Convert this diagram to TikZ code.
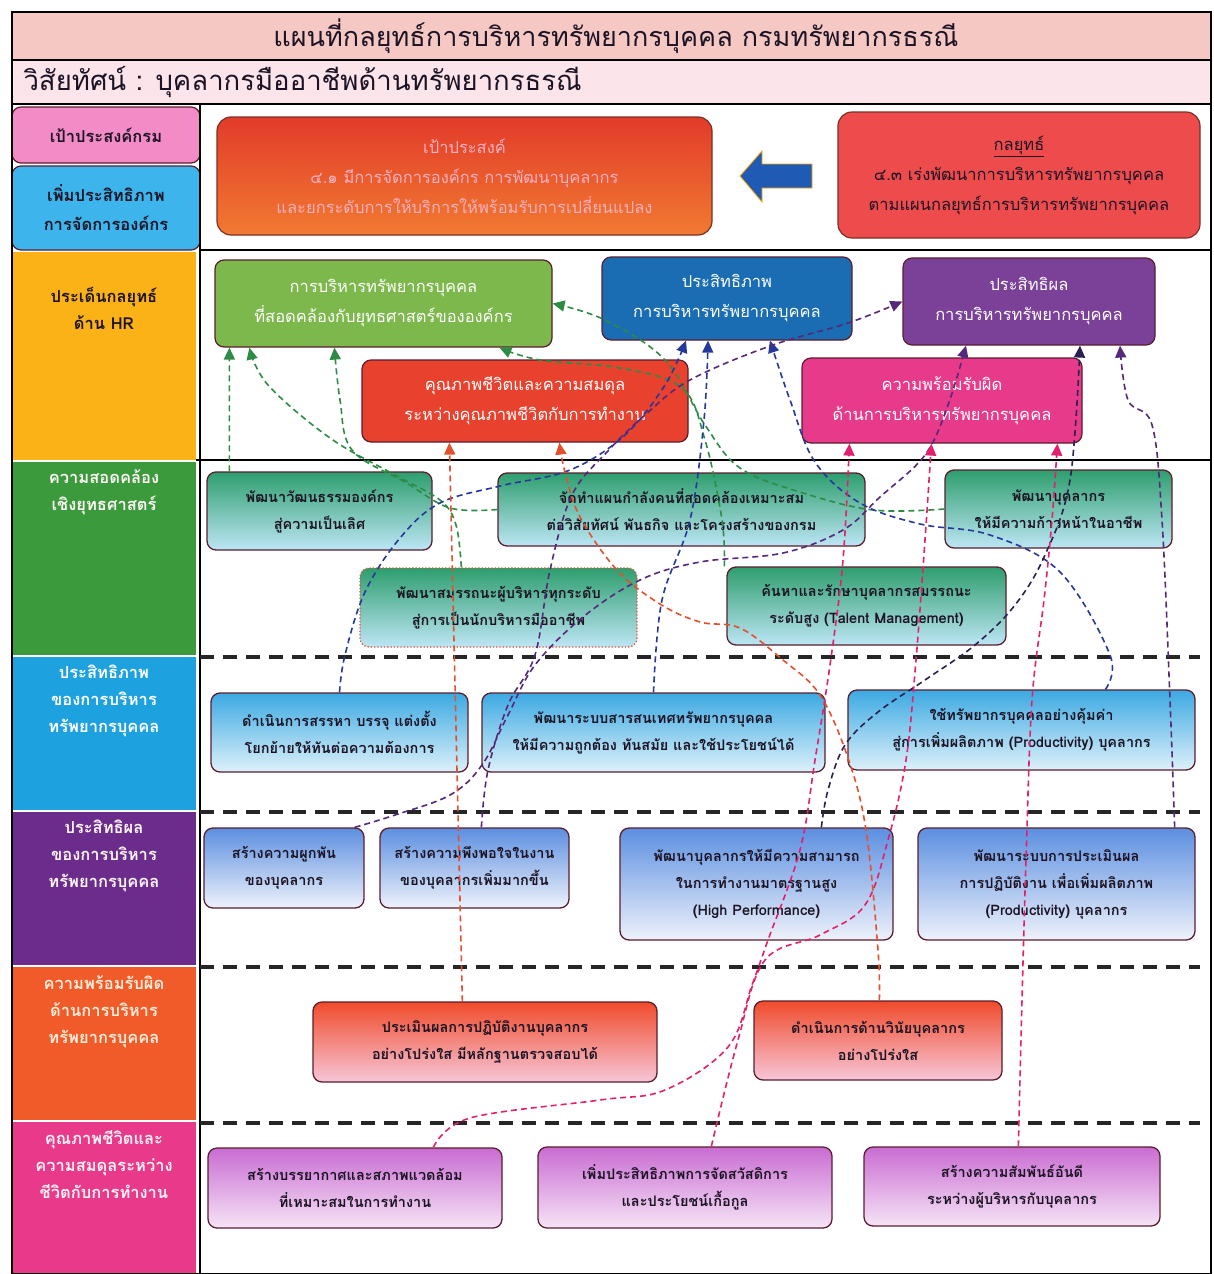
\documentclass[tikz,border=0pt]{standalone}
\usepackage{fontspec}
\newfontfamily\thaifont[Script=Thai]{Loma}
\usetikzlibrary{arrows.meta}

\definecolor{edgecol}{HTML}{5A1E2E}
\definecolor{titlepink}{HTML}{F5C8C4}
\definecolor{visionpink}{HTML}{FBE4EA}
\definecolor{cellpink}{HTML}{F28BC6}
\definecolor{cellblue}{HTML}{3DB5EC}
\definecolor{cellorange}{HTML}{FBB217}
\definecolor{cellgreen}{HTML}{3A9A3C}
\definecolor{cellsky}{HTML}{1DA1DF}
\definecolor{cellpurple}{HTML}{6B2C8C}
\definecolor{cellred}{HTML}{F15A29}
\definecolor{cellmagenta}{HTML}{E8398B}
\definecolor{goaltop}{HTML}{E23B2A}
\definecolor{goalbot}{HTML}{F17A31}
\definecolor{goaltext}{HTML}{F6B0C0}
\definecolor{stratred}{HTML}{EE4B4D}
\definecolor{hrgreencol}{HTML}{7DB84C}
\definecolor{hrbluecol}{HTML}{1A6DB2}
\definecolor{hrpurplecol}{HTML}{7B4199}
\definecolor{hrredcol}{HTML}{E8412E}
\definecolor{hrpinkcol}{HTML}{E83A8A}
\definecolor{alntop}{HTML}{2E9E6E}
\definecolor{alnbot}{HTML}{BDE6F5}
\definecolor{efftop}{HTML}{3CA9E2}
\definecolor{effbot}{HTML}{DDF1FA}
\definecolor{restop}{HTML}{5C8FE0}
\definecolor{resbot}{HTML}{EEF2FB}
\definecolor{acctop}{HTML}{F04B2B}
\definecolor{accbot}{HTML}{F7C6D8}
\definecolor{qoltop}{HTML}{C96CD2}
\definecolor{qolbot}{HTML}{F6E4F6}
\definecolor{lkgreen}{HTML}{2E8B45}
\definecolor{lkblue}{HTML}{26399A}
\definecolor{lkpurple}{HTML}{55287A}
\definecolor{lkdark}{HTML}{2B2050}
\definecolor{lkred}{HTML}{E4502E}
\definecolor{lkpink}{HTML}{E2206E}
\definecolor{inkdark}{HTML}{1C1424}
\definecolor{arrowblue}{HTML}{1F5AB4}

\begin{document}
\begin{tikzpicture}[
  x=1pt, y=-1pt,
  font=\thaifont\fontsize{14.5}{27}\selectfont,
  cellbox/.style={minimum width=184pt, inner sep=0pt},
  celltext/.style={anchor=north, align=center, font=\thaifont\bfseries\fontsize{16.5}{27}\selectfont},
  headbox/.style={draw=edgecol, line width=1.2pt, rounded corners=9pt, minimum width=188pt, align=center, text=inkdark, font=\thaifont\bfseries\fontsize{16.5}{29}\selectfont},
  topbox/.style={draw=edgecol!80!orange, line width=1.2pt, rounded corners=14pt, align=center, font=\thaifont\fontsize{16.5}{30}\selectfont},
  hrbox/.style={draw=edgecol, line width=1.2pt, rounded corners=9pt, align=center, text=white, font=\thaifont\fontsize{16.5}{30}\selectfont},
  subbox/.style={draw=edgecol, line width=1.3pt, rounded corners=9pt, align=center, text=inkdark, font=\thaifont\bfseries\fontsize{14.5}{27}\selectfont},
  alnbox/.style={subbox, top color=alntop, bottom color=alnbot},
  effbox/.style={subbox, top color=efftop, bottom color=effbot},
  resbox/.style={subbox, top color=restop, bottom color=resbot},
  accbox/.style={subbox, top color=acctop, bottom color=accbot},
  qolbox/.style={subbox, top color=qoltop, bottom color=qolbot},
  sepline/.style={line width=3.5pt, dash pattern=on 14pt off 9pt, draw=black!85},
  link/.style={dash pattern=on 6pt off 4pt, line width=1.6pt, -{Triangle[length=12pt,width=11pt]}},
  glink/.style={link, draw=lkgreen},
  blink/.style={link, draw=lkblue},
  ulink/.style={link, draw=lkpurple},
  dlink/.style={link, draw=lkdark},
  rlink/.style={link, draw=lkred},
  klink/.style={link, draw=lkpink}
]
  \useasboundingbox (0,0) rectangle (1213,1274);
  \fill[white] (0,0) rectangle (1213,1274);

  % title and vision bands
  \fill[titlepink] (12,12) rectangle (1211,60);
  \fill[visionpink] (12,60) rectangle (1211,104);
  \node[font=\thaifont\fontsize{27}{30}\selectfont, text=inkdark] (title) at (616,36) {แผนที่กลยุทธ์การบริหารทรัพยากรบุคคล กรมทรัพยากรธรณี};
  \node[anchor=west, font=\thaifont\fontsize{27.5}{30}\selectfont, text=inkdark] (vision) at (20,82) {วิสัยทัศน์ : บุคลากรมืออาชีพด้านทรัพยากรธรณี};

  % left column
  \node[headbox, fill=cellpink, minimum height=56pt] (deptgoal) at (106,135) {เป้าประสงค์กรม};
  \node[headbox, fill=cellblue, minimum height=84pt] (goalname) at (106,208) {เพิ่มประสิทธิภาพ\\การจัดการองค์กร};

  \node[cellbox, fill=cellorange, minimum height=208pt] (hrcell) at (104,356) {};
  \node[celltext, text=inkdark] (hrcelltxt) at ([yshift=-32pt]hrcell.north) {ประเด็นกลยุทธ์\\ด้าน HR};
  \node[cellbox, fill=cellgreen, minimum height=193pt] (alncell) at (104,558.5) {};
  \node[celltext, text=white!88!pink] (alncelltxt) at ([yshift=-4pt]alncell.north) {ความสอดคล้อง\\เชิงยุทธศาสตร์};
  \node[cellbox, fill=cellsky, minimum height=153pt] (effcell) at (104,733.5) {};
  \node[celltext, text=white] (effcelltxt) at ([yshift=-5pt]effcell.north) {ประสิทธิภาพ\\ของการบริหาร\\ทรัพยากรบุคคล};
  \node[cellbox, fill=cellpurple, minimum height=153pt] (rescell) at (104,888.5) {};
  \node[celltext, text=white!85!pink] (rescelltxt) at ([yshift=-5pt]rescell.north) {ประสิทธิผล\\ของการบริหาร\\ทรัพยากรบุคคล};
  \node[cellbox, fill=cellred, minimum height=153pt] (acccell) at (104,1043.5) {};
  \node[celltext, text=white!85!orange] (acccelltxt) at ([yshift=-5pt]acccell.north) {ความพร้อมรับผิด\\ด้านการบริหาร\\ทรัพยากรบุคคล};
  \node[cellbox, fill=cellmagenta, minimum height=152pt] (qolcell) at (104,1198) {};
  \node[celltext, text=white!80!pink] (qolcelltxt) at ([yshift=-5pt]qolcell.north) {คุณภาพชีวิตและ\\ความสมดุลระหว่าง\\ชีวิตกับการทำงาน};

  % frame lines
  \draw[line width=1.5pt] (12,12) rectangle (1211,1274);
  \draw[line width=1.2pt] (12,60) -- (1211,60);
  \draw[line width=1.5pt] (12,104) -- (1211,104);
  \draw[line width=1.2pt] (200,104) -- (200,1274);
  \draw[line width=1.2pt] (200,250) -- (1211,250);
  \draw[line width=1.2pt] (196,460) -- (1211,460);
  \foreach \y in {657,812,967,1123}
    \draw[sepline] (200,\y) -- (1200,\y);

  % goal and strategy
  \node[topbox, top color=goaltop, bottom color=goalbot, text=goaltext, minimum width=495pt, minimum height=118pt] (goal) at (464.5,176) {เป้าประสงค์\\๔.๑ มีการจัดการองค์กร การพัฒนาบุคลากร\\และยกระดับการให้บริการให้พร้อมรับการเปลี่ยนแปลง};
  \node[topbox, fill=stratred, text=inkdark, minimum width=362pt, minimum height=126pt] (strat) at (1019,175) {\underline{กลยุทธ์}\\๔.๓ เร่งพัฒนาการบริหารทรัพยากรบุคคล\\ตามแผนกลยุทธ์การบริหารทรัพยากรบุคคล};
  \filldraw[fill=arrowblue, draw=orange!70!yellow, line width=0.8pt] (740,176) -- (762,151) -- (762,164) -- (812,164) -- (812,188) -- (762,188) -- (762,202) -- cycle;

  % HR strategic issues
  \node[hrbox, fill=hrgreencol, minimum width=337pt, minimum height=87pt] (hrgreen) at (383.5,303.5) {การบริหารทรัพยากรบุคคล\\ที่สอดคล้องกับยุทธศาสตร์ขององค์กร};
  \node[hrbox, fill=hrbluecol, minimum width=250pt, minimum height=83pt] (hrblue) at (727,298.5) {ประสิทธิภาพ\\การบริหารทรัพยากรบุคคล};
  \node[hrbox, fill=hrpurplecol, minimum width=252pt, minimum height=87pt] (hrpurple) at (1029,301.5) {ประสิทธิผล\\การบริหารทรัพยากรบุคคล};
  \node[hrbox, fill=hrredcol, minimum width=326pt, minimum height=82pt] (hrred) at (525,401) {คุณภาพชีวิตและความสมดุล\\ระหว่างคุณภาพชีวิตกับการทำงาน};
  \node[hrbox, fill=hrpinkcol, minimum width=280pt, minimum height=85pt] (hrpink) at (942,400.5) {ความพร้อมรับผิด\\ด้านการบริหารทรัพยากรบุคคล};

  % strategic alignment
  \node[alnbox, minimum width=225pt, minimum height=78pt] (A1) at (319.5,511) {พัฒนาวัฒนธรรมองค์กร\\สู่ความเป็นเลิศ};
  \node[alnbox, minimum width=367pt, minimum height=73pt] (A2) at (681.5,509.5) {จัดทำแผนกำลังคนที่สอดคล้องเหมาะสม\\ต่อวิสัยทัศน์ พันธกิจ และโครงสร้างของกรม};
  \node[alnbox, minimum width=227pt, minimum height=78pt] (A3) at (1058.5,509) {พัฒนาบุคลากร\\ให้มีความก้าวหน้าในอาชีพ};
  \node[alnbox, draw=lkred, dotted, minimum width=277pt, minimum height=79pt] (A4) at (498.5,607.5) {พัฒนาสมรรถนะผู้บริหารทุกระดับ\\สู่การเป็นนักบริหารมืออาชีพ};
  \node[alnbox, minimum width=279pt, minimum height=78pt] (A5) at (866.5,606) {ค้นหาและรักษาบุคลากรสมรรถนะ\\ระดับสูง (Talent Management)};

  % efficiency
  \node[effbox, minimum width=257pt, minimum height=79pt] (E1) at (339.5,732.5) {ดำเนินการสรรหา บรรจุ แต่งตั้ง\\โยกย้ายให้ทันต่อความต้องการ};
  \node[effbox, minimum width=343pt, minimum height=79pt] (E2) at (653.5,732.5) {พัฒนาระบบสารสนเทศทรัพยากรบุคคล\\ให้มีความถูกต้อง ทันสมัย และใช้ประโยชน์ได้};
  \node[effbox, minimum width=347pt, minimum height=80pt] (E3) at (1021.5,730) {ใช้ทรัพยากรบุคคลอย่างคุ้มค่า\\สู่การเพิ่มผลิตภาพ (Productivity) บุคลากร};

  % effectiveness
  \node[resbox, minimum width=160pt, minimum height=80pt] (F1) at (284,868) {สร้างความผูกพัน\\ของบุคลากร};
  \node[resbox, minimum width=189pt, minimum height=80pt] (F2) at (474.5,868) {สร้างความพึงพอใจในงาน\\ของบุคลากรเพิ่มมากขึ้น};
  \node[resbox, minimum width=273pt, minimum height=112pt] (F3) at (756.5,884) {พัฒนาบุคลากรให้มีความสามารถ\\ในการทำงานมาตรฐานสูง\\(High Performance)};
  \node[resbox, minimum width=277pt, minimum height=112pt] (F4) at (1056.5,884) {พัฒนาระบบการประเมินผล\\การปฏิบัติงาน เพื่อเพิ่มผลิตภาพ\\(Productivity) บุคลากร};

  % accountability
  \node[accbox, minimum width=344pt, minimum height=80pt] (R1) at (485,1042) {ประเมินผลการปฏิบัติงานบุคลากร\\อย่างโปร่งใส มีหลักฐานตรวจสอบได้};
  \node[accbox, minimum width=248pt, minimum height=79pt] (R2) at (878,1040.5) {ดำเนินการด้านวินัยบุคลากร\\อย่างโปร่งใส};

  % quality of work life
  \node[qolbox, minimum width=294pt, minimum height=80pt] (Q1) at (355,1188) {สร้างบรรยากาศและสภาพแวดล้อม\\ที่เหมาะสมในการทำงาน};
  \node[qolbox, minimum width=294pt, minimum height=81pt] (Q2) at (685,1187.5) {เพิ่มประสิทธิภาพการจัดสวัสดิการ\\และประโยชน์เกื้อกูล};
  \node[qolbox, minimum width=296pt, minimum height=79pt] (Q3) at (1012,1186.5) {สร้างความสัมพันธ์อันดี\\ระหว่างผู้บริหารกับบุคลากร};

  % green links
  \draw[glink] ([xshift=23pt]A1.north west) -- ([xshift=15pt]hrgreen.south west);
  \draw[glink] plot[smooth, tension=0.6] coordinates {([xshift=102pt]A4.north west) (456,525) (440,500) (395,475) (330,438) (268,385) ([xshift=35pt]hrgreen.south west)};
  \draw[glink] plot[smooth, tension=0.6] coordinates {(A2.west) (450,508) (405,482) (352,450) (340,400) ([xshift=120pt]hrgreen.south west)};
  \draw[glink] plot[smooth, tension=0.6] coordinates {(A3.west) (873,510) (800,492) (740,468) (705,425) (665,360) (605,320) (hrgreen.east)};
  \draw[glink] plot[smooth, tension=0.6] coordinates {([xshift=-2pt]A5.north west) (722,520) (705,440) (682,388) (620,368) (540,360) ([xshift=285pt]hrgreen.south west)};

  % blue links
  \draw[blink] plot[smooth, tension=0.6] coordinates {(E1.north) (345,655) (365,592) (400,538) (440,503) (500,486) (570,470) (625,435) (665,385) ([xshift=-41pt]hrblue.south)};
  \draw[blink] plot[smooth, tension=0.6] coordinates {(E2.north) (662,600) (690,520) (704,420) ([xshift=-19pt]hrblue.south)};
  \draw[blink] plot[smooth, tension=0.6] coordinates {([xshift=258pt]E3.north west) (1110,655) (1060,572) (990,535) (920,524) (860,503) (815,462) (790,400) ([xshift=43pt]hrblue.south)};

  % purple links
  \draw[ulink] plot[smooth, tension=0.6] coordinates {([xshift=-10pt]F1.north east) (395,815) (450,795) (482,765) (508,715) (535,665) (583,617) (640,580) (700,562) (783,553) (843,530) (880,497) (925,455) (948,405) ([xshift=-63pt]hrpurple.south)};
  \draw[ulink] plot[smooth, tension=0.6] coordinates {([xshift=102pt]F2.north west) (488,770) (508,705) (535,655) (550,570) (572,495) (607,452) (645,415) (690,380) (770,346) (848,323) (hrpurple.west)};
  \draw[ulink] plot[smooth, tension=0.6] coordinates {([xshift=-21pt]F4.north east) (1170,700) (1162,520) (1152,425) (1128,400) ([xshift=91pt]hrpurple.south)};
  \draw[dlink] plot[smooth, tension=0.6] coordinates {([xshift=202pt]F3.north west) (828,790) (845,745) (878,712) (925,680) (975,645) (1015,605) (1045,555) (1070,480) ([xshift=51pt]hrpurple.south)};

  % red links
  \draw[rlink] ([xshift=150pt]R1.north west) -- ([xshift=88pt]hrred.south west);
  \draw[rlink] plot[smooth, tension=0.6] coordinates {([xshift=126pt]R2.north west) (878,950) (866,830) (848,758) (820,695) (783,660) (740,628) (700,622) (660,604) (617,570) (580,517) (565,472) ([xshift=198pt]hrred.south west)};

  % pink links
  \draw[klink] plot[smooth, tension=0.6] coordinates {([xshift=226pt]Q1.north west) (470,1118) (600,1100) (665,1090) (728,1047) (752,985) (768,940) (800,850) (815,760) (830,665) (843,560) ([xshift=48pt]hrpink.south west)};
  \draw[klink] plot[smooth, tension=0.6] coordinates {([xshift=174pt]Q2.north west) (738,1040) (765,960) (820,935) (865,905) (888,840) (906,760) (916,660) (925,540) ([xshift=130pt]hrpink.south west)};
  \draw[klink] plot[smooth, tension=0.6] coordinates {([xshift=155pt]Q3.north west) (1022,1000) (1026,860) (1032,700) (1044,600) (1052,520) ([xshift=256pt]hrpink.south west)};
\end{tikzpicture}
\end{document}
